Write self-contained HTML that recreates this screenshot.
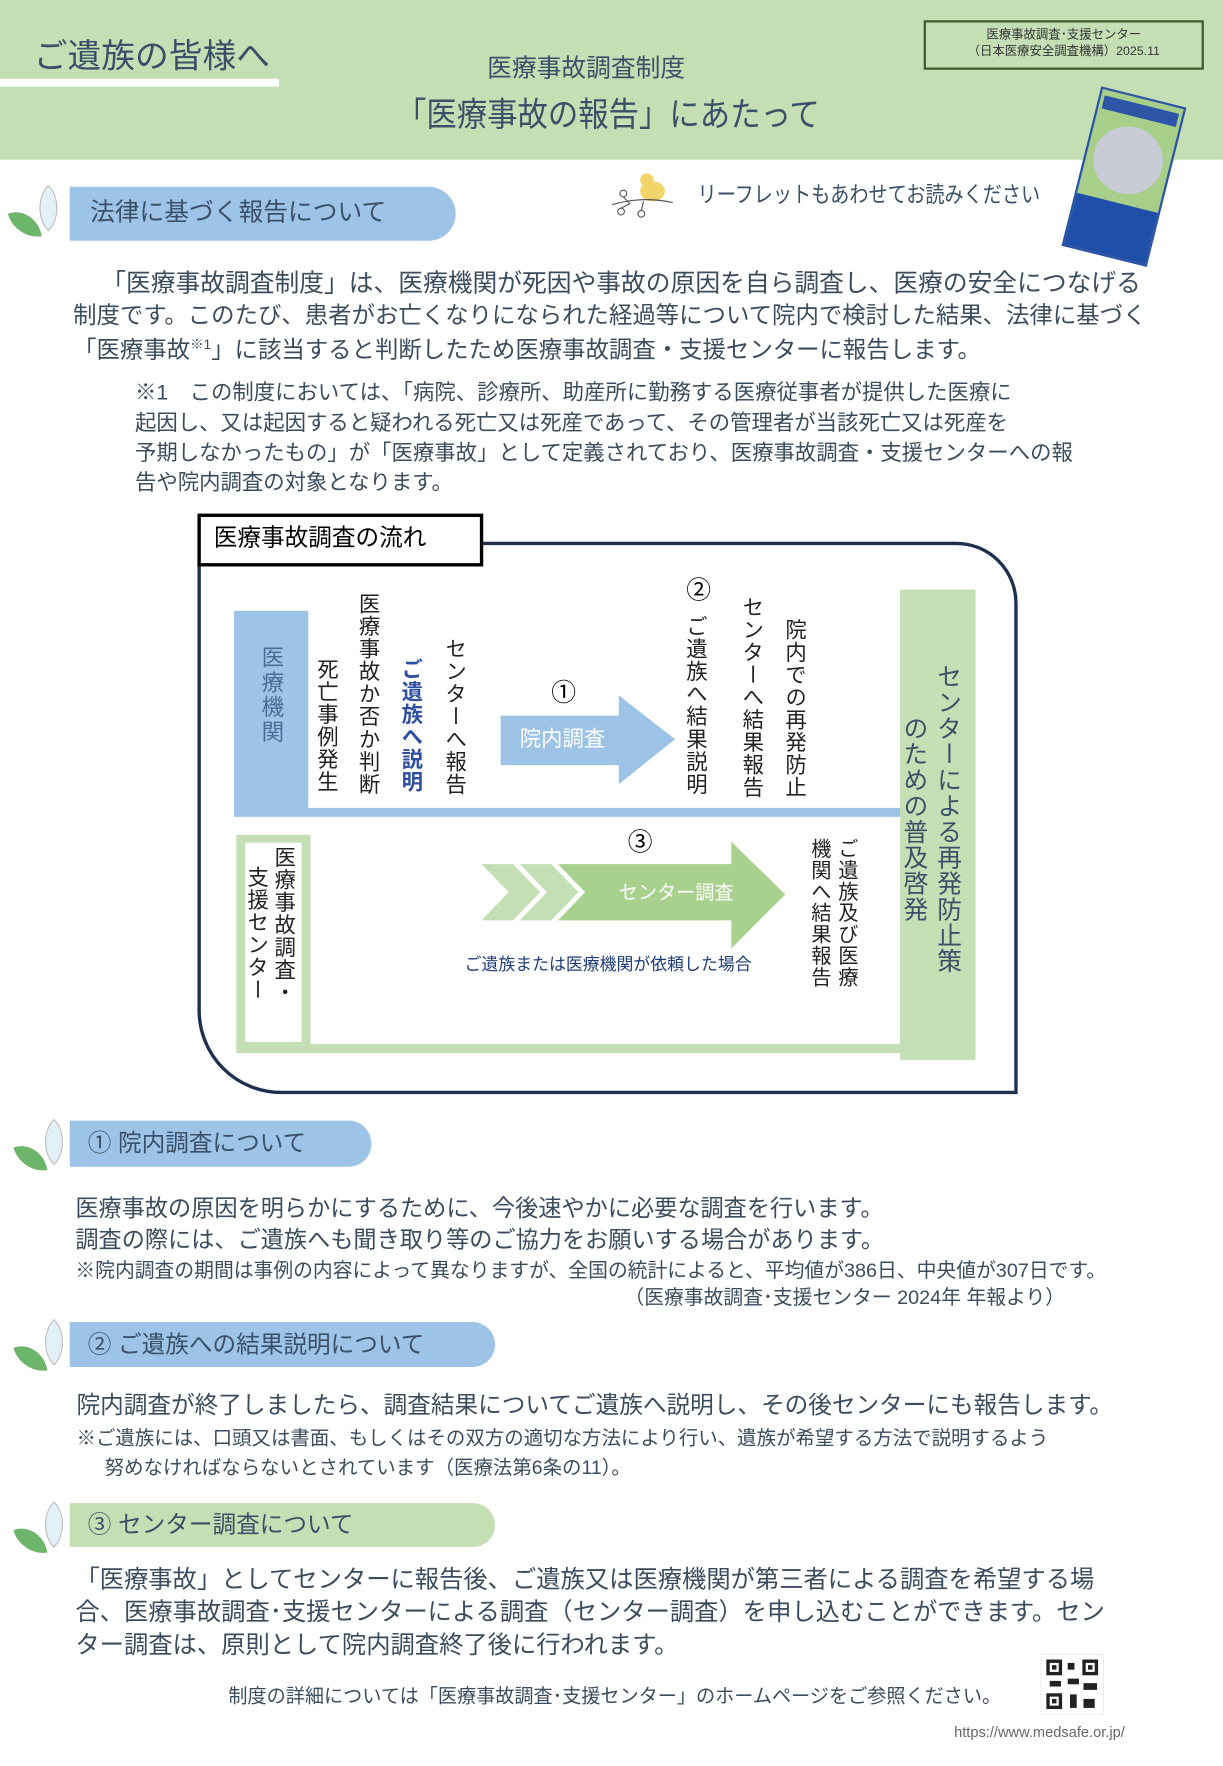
<!DOCTYPE html>
<html><head><meta charset="utf-8">
<style>
*{margin:0;padding:0;box-sizing:border-box}
html,body{width:1223px;height:1766px;overflow:hidden;background:#fff}
#w{position:absolute;left:0;top:0;width:1087px;height:1570px;transform:scale(1.1251);transform-origin:0 0;font-family:"Liberation Sans","Noto Sans CJK JP",sans-serif;color:#3b4c5e}
.a{position:absolute;white-space:nowrap;line-height:1}
.v{position:absolute;writing-mode:vertical-rl;white-space:nowrap;line-height:1;font-family:"Noto Sans CJK JP",sans-serif;color:#222}
.pill{position:absolute;border-radius:0 24px 24px 0}
.sx{transform-origin:0 0}
</style></head><body><div id="w">
<div style="position:absolute;left:0;top:0;width:1087px;height:142px;background:#c5dfb5"></div>
<div class="a" style="left:30px;top:36px;font-size:30px;color:#3a5068">ご遺族の皆様へ</div>
<div style="position:absolute;left:0;top:70px;width:248px;height:7px;background:#fff"></div>
<div class="a" style="left:433px;top:50px;font-size:22px;color:#3a5068">医療事故調査制度</div>
<div class="a sx" style="left:352px;top:88px;font-size:30px;color:#3a5068;transform:scaleX(0.9)">「医療事故の報告」にあたって</div>
<div style="position:absolute;left:821px;top:18px;width:249px;height:44px;border:2px solid #3d5a2a"></div>
<div class="a" style="left:821px;top:26px;width:249px;text-align:center;font-size:11px;color:#333">医療事故調査･支援センター</div>
<div class="a" style="left:821px;top:41px;width:249px;text-align:center;font-size:11px;color:#333">（日本医療安全調査機構）2025.11</div>
<div style="position:absolute;left:960px;top:84px;width:78px;height:146px;background:#a7cf8a;border:2px solid #2c55a8;transform:rotate(14deg)">
<div style="position:absolute;left:3px;top:5px;width:68px;height:12px;background:#2c55a8"></div>
<div style="position:absolute;left:6px;top:26px;width:62px;height:60px;border-radius:50%;background:#c9ccd6"></div>
<div style="position:absolute;left:0;top:95px;width:74px;height:47px;background:#1f4fa8"></div></div>
<!-- section law -->
<svg style="position:absolute;left:5px;top:160px" width="50" height="55"><path d="M38 5 C28 15 28 35 38 45 C48 35 48 15 38 5Z" fill="#e2f0f8" stroke="#bbb"/><path d="M2 30 C15 25 30 35 32 50 C18 52 5 42 2 30Z" fill="#6cb56a"/></svg>
<div class="pill" style="left:62px;top:166px;width:343px;height:48px;background:#9dc3e6"></div>
<div class="a" style="left:80px;top:178px;font-size:22px;color:#3a5068">法律に基づく報告について</div>
<svg style="position:absolute;left:540px;top:150px" width="65" height="48"><ellipse cx="40" cy="20" rx="11" ry="9" fill="#f3d46a"/><circle cx="35" cy="10" r="6" fill="#f3d46a"/><path d="M4 32 Q30 24 58 30" stroke="#555" fill="none"/><circle cx="14" cy="22" r="3" fill="none" stroke="#555"/><circle cx="12" cy="38" r="3" fill="none" stroke="#555"/><circle cx="30" cy="40" r="3" fill="none" stroke="#555"/><path d="M14 25 L20 31 M12 35 L20 31 M30 37 L32 29" stroke="#555"/></svg>
<div class="a sx" style="left:620px;top:164px;font-size:20px;color:#3a5068;transform:scaleX(0.85)">リーフレットもあわせてお読みください</div>
<div class="a" style="left:90px;top:241px;font-size:22px">「医療事故調査制度」は、医療機関が死因や事故の原因を自ら調査し、医療の安全につなげる</div>
<div class="a" style="left:65px;top:271px;font-size:20.8px">制度です。このたび、患者がお亡くなりになられた経過等について院内で検討した結果、法律に基づく</div>
<div class="a" style="left:65px;top:300px;font-size:20.8px">「医療事故<sup style="font-size:12px">※1</sup>」に該当すると判断したため医療事故調査・支援センターに報告します。</div>
<div class="a" style="left:120px;top:340px;font-size:19px">※1　この制度においては、「病院、診療所、助産所に勤務する医療従事者が提供した医療に</div>
<div class="a" style="left:120px;top:367px;font-size:19px">起因し、又は起因すると疑われる死亡又は死産であって、その管理者が当該死亡又は死産を</div>
<div class="a" style="left:120px;top:394px;font-size:19px">予期しなかったもの」が「医療事故」として定義されており、医療事故調査・支援センターへの報</div>
<div class="a" style="left:120px;top:420px;font-size:19px">告や院内調査の対象となります。</div>
<!-- diagram -->
<svg style="position:absolute;left:0;top:0" width="1087" height="1570">
<path d="M428 483 H850 A53 53 0 0 1 903 536 V971 H250 A73 73 0 0 1 177 898 V500" fill="none" stroke="#1f3050" stroke-width="3"/>
<rect x="177" y="458" width="251" height="44" fill="#fff" stroke="#000" stroke-width="3"/>
<path d="M208 543 H274 V718 H800 V726 H208Z" fill="#9dc3e6"/>
<rect x="800" y="524" width="67" height="418" fill="#c5dfb5"/>
<path d="M210 742 H276 V928 H800 V936 H210Z M218 749 V926 H268 V749Z" fill="#c5dfb5" fill-rule="evenodd"/>
<path d="M445 636 H550 V618 L600 657 L550 697 V680 H445Z" fill="#9dc3e6"/>
<path d="M428 768 H456 L480 793 L456 818 H428 L452 793Z" fill="#c5dfb5"/>
<path d="M462 768 H490 L514 793 L490 818 H462 L486 793Z" fill="#c5dfb5"/>
<path d="M496 768 H650 V748 L698 795 L650 843 V818 H496 L520 793Z" fill="#a9d18e"/>
</svg>
<div class="a" style="left:190px;top:468px;font-size:21px;color:#000">医療事故調査の流れ</div>
<div class="v" style="left:232px;top:574px;font-size:20px;color:#4a6d95;letter-spacing:2px">医療機関</div>
<div class="v" style="left:282px;top:585px;font-size:19px;letter-spacing:1px">死亡事例発生</div>
<div class="v" style="left:319px;top:527px;font-size:19px;letter-spacing:1px">医療事故か否か判断</div>
<div class="v" style="left:357px;top:585px;font-size:19px;font-weight:bold;color:#2f4fa0;letter-spacing:1px">ご遺族へ説明</div>
<div class="v" style="left:396px;top:567px;font-size:19px;letter-spacing:1px">センターへ報告</div>
<div class="a" style="left:490px;top:605px;font-size:22px;color:#000">①</div>
<div class="a" style="left:462px;top:648px;font-size:19px;color:#fff">院内調査</div>
<div class="a" style="left:610px;top:514px;font-size:22px;color:#000">②</div>
<div class="v" style="left:610px;top:547px;font-size:19px;letter-spacing:1px">ご遺族へ結果説明</div>
<div class="v" style="left:660px;top:530px;font-size:19px;letter-spacing:1px">センターへ結果報告</div>
<div class="v" style="left:698px;top:550px;font-size:19px;letter-spacing:1px">院内での再発防止</div>
<div class="v" style="left:833px;top:590px;font-size:22px;color:#3a5068;letter-spacing:1px">センターによる再発防止策</div>
<div class="v" style="left:803px;top:636px;font-size:22px;color:#3a5068;letter-spacing:1px">のための普及啓発</div>
<div class="a" style="left:558px;top:738px;font-size:22px;color:#000">③</div>
<div class="a" style="left:550px;top:785px;font-size:17px;color:#fff">センター調査</div>
<div class="a" style="left:413px;top:850px;font-size:15px;color:#1f3c78">ご遺族または医療機関が依頼した場合</div>
<div class="v" style="left:244px;top:752px;font-size:19px;letter-spacing:1px">医療事故調査・</div>
<div class="v" style="left:220px;top:770px;font-size:19px;letter-spacing:1px">支援センター</div>
<div class="v" style="left:745px;top:745px;font-size:18px;letter-spacing:1px">ご遺族及び医療</div>
<div class="v" style="left:721px;top:745px;font-size:18px;letter-spacing:1px">機関へ結果報告</div>
<!-- section 1 -->
<svg style="position:absolute;left:10px;top:990px" width="50" height="55"><path d="M38 5 C28 15 28 35 38 45 C48 35 48 15 38 5Z" fill="#e2f0f8" stroke="#bbb"/><path d="M2 30 C15 25 30 35 32 50 C18 52 5 42 2 30Z" fill="#6cb56a"/></svg>
<div class="pill" style="left:62px;top:996px;width:268px;height:41px;background:#9dc3e6;border-radius:0 20px 20px 0"></div>
<div class="a" style="left:78px;top:1006px;font-size:21px;color:#3a5068">① 院内調査について</div>
<div class="a" style="left:67px;top:1065px;font-size:20.6px">医療事故の原因を明らかにするために、今後速やかに必要な調査を行います。</div>
<div class="a" style="left:67px;top:1093px;font-size:20.6px">調査の際には、ご遺族へも聞き取り等のご協力をお願いする場合があります。</div>
<div class="a" style="left:67px;top:1121px;font-size:17.6px">※院内調査の期間は事例の内容によって異なりますが、全国の統計によると、平均値が386日、中央値が307日です。</div>
<div class="a" style="left:555px;top:1145px;font-size:17.6px">（医療事故調査･支援センター 2024年 年報より）</div>
<!-- section 2 -->
<svg style="position:absolute;left:10px;top:1168px" width="50" height="55"><path d="M38 5 C28 15 28 35 38 45 C48 35 48 15 38 5Z" fill="#e2f0f8" stroke="#bbb"/><path d="M2 30 C15 25 30 35 32 50 C18 52 5 42 2 30Z" fill="#6cb56a"/></svg>
<div class="pill" style="left:62px;top:1175px;width:378px;height:40px;background:#9dc3e6;border-radius:0 20px 20px 0"></div>
<div class="a" style="left:78px;top:1185px;font-size:21px;color:#3a5068">② ご遺族への結果説明について</div>
<div class="a" style="left:68px;top:1239px;font-size:21px">院内調査が終了しましたら、調査結果についてご遺族へ説明し、その後センターにも報告します。</div>
<div class="a" style="left:68px;top:1270px;font-size:17.3px">※ご遺族には、口頭又は書面、もしくはその双方の適切な方法により行い、遺族が希望する方法で説明するよう</div>
<div class="a" style="left:93px;top:1296px;font-size:17.3px">努めなければならないとされています（医療法第6条の11）。</div>
<!-- section 3 -->
<svg style="position:absolute;left:10px;top:1330px" width="50" height="55"><path d="M38 5 C28 15 28 35 38 45 C48 35 48 15 38 5Z" fill="#e2f0f8" stroke="#bbb"/><path d="M2 30 C15 25 30 35 32 50 C18 52 5 42 2 30Z" fill="#6cb56a"/></svg>
<div class="pill" style="left:62px;top:1336px;width:378px;height:39px;background:#c5dfb5;border-radius:0 20px 20px 0"></div>
<div class="a" style="left:78px;top:1345px;font-size:21px;color:#3a5068">③ センター調査について</div>
<div class="a" style="left:67px;top:1393px;font-size:21.6px">「医療事故」としてセンターに報告後、ご遺族又は医療機関が第三者による調査を希望する場</div>
<div class="a" style="left:67px;top:1422px;font-size:21.6px">合、医療事故調査･支援センターによる調査（センター調査）を申し込むことができます。セン</div>
<div class="a" style="left:67px;top:1451px;font-size:21.6px">ター調査は、原則として院内調査終了後に行われます。</div>
<div class="a" style="left:203px;top:1499px;font-size:17px">制度の詳細については「医療事故調査･支援センター」のホームページをご参照ください。</div>
<svg style="position:absolute;left:925px;top:1470px" width="56" height="54"><rect width="56" height="54" fill="#fff" stroke="#ddd"/><g fill="#222"><rect x="5" y="5" width="14" height="14"/><rect x="37" y="5" width="14" height="14"/><rect x="5" y="35" width="14" height="14"/><rect x="24" y="8" width="6" height="6"/><rect x="24" y="22" width="10" height="5"/><rect x="38" y="26" width="12" height="6"/><rect x="26" y="36" width="6" height="12"/><rect x="38" y="40" width="10" height="8"/><rect x="8" y="24" width="10" height="5"/></g><g fill="#fff"><rect x="8" y="8" width="8" height="8"/><rect x="40" y="8" width="8" height="8"/><rect x="8" y="38" width="8" height="8"/></g><g fill="#222"><rect x="10" y="10" width="4" height="4"/><rect x="42" y="10" width="4" height="4"/><rect x="10" y="40" width="4" height="4"/></g></svg>
<div class="a" style="left:848px;top:1533px;font-size:13px;color:#666">https://www.medsafe.or.jp/</div>
</div></body></html>
